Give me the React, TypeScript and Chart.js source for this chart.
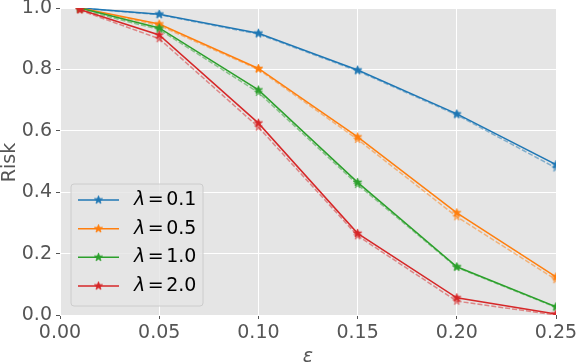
import React, { useEffect, useRef } from "react";
import { Chart, registerables } from "chart.js";

Chart.register(...registerables);

// ---- data ----
const EPS = [0.01, 0.05, 0.1, 0.15, 0.2, 0.25];
const LAMBDA_LABELS = ["0.1", "0.5", "1.0", "2.0"];
const COLORS = ["#1f77b4", "#ff7f0e", "#2ca02c", "#d62728"];
const COLORS_LIGHT = [
  "rgba(31,119,180,0.5)",
  "rgba(255,127,14,0.5)",
  "rgba(44,160,44,0.5)",
  "rgba(214,39,40,0.5)",
];

const RISK_L01 = [1.0, 0.98, 0.918, 0.798, 0.655, 0.49];
const RISK_L05 = [1.0, 0.948, 0.803, 0.58, 0.333, 0.124];
const RISK_L10 = [1.0, 0.935, 0.733, 0.432, 0.157, 0.027];
const RISK_L20 = [0.995, 0.912, 0.625, 0.266, 0.056, 0.003];

const RISK_L01_DASH = [1.0, 0.978, 0.915, 0.795, 0.652, 0.479];
const RISK_L05_DASH = [1.0, 0.943, 0.8, 0.572, 0.32, 0.115];
const RISK_L10_DASH = [0.995, 0.93, 0.725, 0.425, 0.155, 0.025];
const RISK_L20_DASH = [0.993, 0.9, 0.612, 0.258, 0.045, 0.0];

const X_TICKS = [0, 0.05, 0.1, 0.15, 0.2, 0.25];
const Y_TICKS = [0, 0.2, 0.4, 0.6, 0.8, 1.0];

const SOLID = [RISK_L01, RISK_L05, RISK_L10, RISK_L20];
const DASHED = [RISK_L01_DASH, RISK_L05_DASH, RISK_L10_DASH, RISK_L20_DASH];

const FONT = "'DejaVu Sans', sans-serif";

function makeStar(color: string, R = 4.3): HTMLCanvasElement {
  const size = 11;
  const c = document.createElement("canvas");
  c.width = size;
  c.height = size;
  const g = c.getContext("2d")!;
  g.translate(size / 2, size / 2);
  g.beginPath();
  for (let i = 0; i < 10; i++) {
    const r = i % 2 === 0 ? R : R * 0.4;
    const a = -Math.PI / 2 + (i * Math.PI) / 5;
    g.lineTo(r * Math.cos(a), r * Math.sin(a));
  }
  g.closePath();
  g.fillStyle = color;
  g.fill();
  g.strokeStyle = color;
  g.lineWidth = 0.8;
  g.stroke();
  return c;
}

export default function App() {
  const ref = useRef<HTMLCanvasElement | null>(null);

  useEffect(() => {
    if (!ref.current) return;
    const starsSolid = COLORS.map((c) => makeStar(c));
    const starsDash = COLORS_LIGHT.map((c) => makeStar(c));

    const datasets: any[] = [];
    SOLID.forEach((vals, i) => {
      datasets.push({
        label: "λ=" + LAMBDA_LABELS[i],
        data: EPS.map((x, j) => ({ x, y: vals[j] })),
        borderColor: COLORS[i],
        backgroundColor: COLORS[i],
        borderWidth: 1.5,
        pointStyle: starsSolid[i],
        pointRadius: 4,
        tension: 0,
        clip: 0,
        order: (3 - i) * 2,
      });
      datasets.push({
        label: "_dash" + i,
        data: EPS.map((x, j) => ({ x, y: DASHED[i][j] })),
        borderColor: COLORS_LIGHT[i],
        backgroundColor: COLORS_LIGHT[i],
        borderWidth: 1.5,
        borderDash: [5, 2],
        pointStyle: starsDash[i],
        pointRadius: 4,
        tension: 0,
        clip: 0,
        order: (3 - i) * 2 + 1,
      });
    });

    const decor = {
      id: "decor",
      beforeDraw(chart: any) {
        const { ctx, chartArea: a } = chart;
        ctx.save();
        ctx.fillStyle = "#E5E5E5";
        ctx.fillRect(a.left, a.top, a.right - a.left, a.bottom - a.top);
        ctx.restore();
      },
      afterDraw(chart: any) {
        const { ctx, chartArea: a } = chart;
        ctx.save();
        // axis titles
        ctx.fillStyle = "#555555";
        ctx.font = `19px ${FONT}`;
        ctx.textAlign = "center";
        ctx.textBaseline = "alphabetic";
        ctx.save();
        ctx.translate(15, (a.top + a.bottom) / 2 + 1);
        ctx.rotate(-Math.PI / 2);
        ctx.fillText("Risk", 0, 0);
        ctx.restore();
        ctx.font = `italic 19px ${FONT}`;
        ctx.fillText("ε", (a.left + a.right) / 2, 362);

        // legend
        const bx = 71, by = 184, bw = 132, bh = 122, r = 3;
        ctx.beginPath();
        ctx.moveTo(bx + r, by);
        ctx.lineTo(bx + bw - r, by);
        ctx.arcTo(bx + bw, by, bx + bw, by + r, r);
        ctx.lineTo(bx + bw, by + bh - r);
        ctx.arcTo(bx + bw, by + bh, bx + bw - r, by + bh, r);
        ctx.lineTo(bx + r, by + bh);
        ctx.arcTo(bx, by + bh, bx, by + bh - r, r);
        ctx.lineTo(bx, by + r);
        ctx.arcTo(bx, by, bx + r, by, r);
        ctx.closePath();
        ctx.fillStyle = "rgba(229,229,229,0.8)";
        ctx.fill();
        ctx.strokeStyle = "#CCCCCC";
        ctx.lineWidth = 1;
        ctx.stroke();

        const rowY = [200, 228.7, 257.3, 286];
        LAMBDA_LABELS.forEach((lab, i) => {
          const y = rowY[i];
          ctx.beginPath();
          ctx.moveTo(78, y);
          ctx.lineTo(119, y);
          ctx.strokeStyle = COLORS[i];
          ctx.lineWidth = 1.5;
          ctx.stroke();
          const s = starsSolid[i];
          ctx.drawImage(s, 98.5 - s.width / 2, y - s.height / 2);

          ctx.fillStyle = "#000000";
          ctx.textAlign = "left";
          ctx.textBaseline = "middle";
          let x = 134;
          ctx.font = `italic 19px ${FONT}`;
          ctx.fillText("λ", x, y);
          x += ctx.measureText("λ").width + 2.5;
          ctx.font = `19px ${FONT}`;
          ctx.fillText("=", x, y);
          x += ctx.measureText("=").width + 2.5;
          ctx.fillText(lab, x, y);
        });
        ctx.restore();
      },
    };

    const chart = new Chart(ref.current, {
      type: "line",
      data: { datasets },
      options: {
        animation: false,
        responsive: true,
        maintainAspectRatio: false,
        layout: { padding: { top: 8, right: 22, left: 0, bottom: 0 } },
        plugins: { legend: { display: false }, tooltip: { enabled: false } },
        scales: {
          x: {
            type: "linear",
            min: 0,
            max: 0.25,
            afterBuildTicks: (s: any) => {
              s.ticks = X_TICKS.map((v) => ({ value: v }));
            },
            afterFit: (s: any) => {
              s.height = 49;
              s.paddingLeft = 0;
              s.paddingRight = 0;
            },
            ticks: {
              callback: (v: any) => Number(v).toFixed(2),
              font: { family: FONT, size: 19 },
              color: "#555555",
              padding: 3,
              maxRotation: 0,
              autoSkip: false,
            },
            grid: {
              color: "#FFFFFF",
              lineWidth: 1,
              tickColor: "#555555",
              tickLength: 4,
            },
            border: { display: false },
          },
          y: {
            type: "linear",
            min: 0,
            max: 1,
            afterBuildTicks: (s: any) => {
              s.ticks = Y_TICKS.map((v) => ({ value: v }));
            },
            afterFit: (s: any) => {
              s.width = 60;
              s.paddingTop = 0;
              s.paddingBottom = 0;
            },
            ticks: {
              callback: (v: any) => Number(v).toFixed(1),
              font: { family: FONT, size: 19 },
              color: "#555555",
              padding: 4,
              autoSkip: false,
            },
            grid: {
              color: "#FFFFFF",
              lineWidth: 1,
              tickColor: "#555555",
              tickLength: 4,
            },
            border: { display: false },
          },
        },
      },
      plugins: [decor],
    });
    return () => chart.destroy();
  }, []);

  return (
    <div style={{ position: "fixed", left: 0, top: 0, width: 578, height: 364 }}>
      <canvas ref={ref} />
    </div>
  );
}
